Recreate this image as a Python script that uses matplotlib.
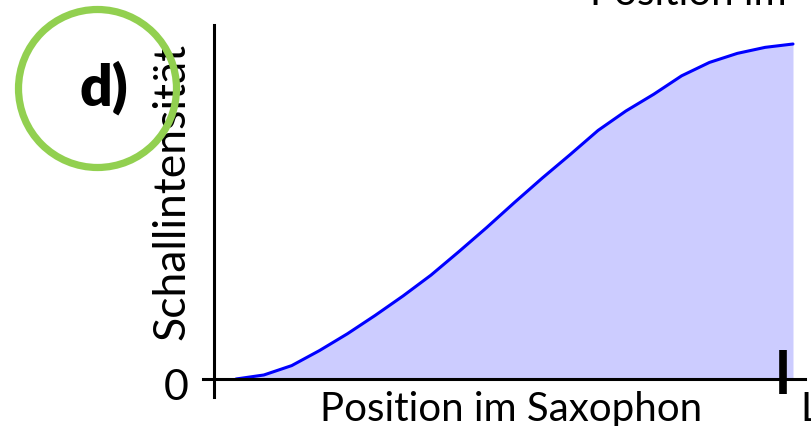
import matplotlib
matplotlib.use("Agg")
import matplotlib.pyplot as plt
from matplotlib.patches import Ellipse

plt.rcParams['font.family'] = ['Lato', 'DejaVu Sans']

# Position im Saxophon (0 = Anfang, 1 = Ende der Kurve) und Schallintensität (normiert)
posicion = [0, 0.05, 0.1, 0.15, 0.2, 0.25, 0.3, 0.35, 0.4, 0.45, 0.5,
            0.55, 0.6, 0.65, 0.7, 0.75, 0.8, 0.85, 0.9, 0.95, 1.0]
intensidad = [0, 0.012, 0.040, 0.085, 0.135, 0.19, 0.248, 0.31, 0.38, 0.452, 0.527,
              0.6, 0.67, 0.742, 0.80, 0.85, 0.905, 0.945, 0.972, 0.99, 1.0]
pos_L = 0.982

W, H = 811, 426
fig = plt.figure(figsize=(W / 100, H / 100), dpi=100)
ax = fig.add_axes([0, 0, 1, 1])
ax.set_xlim(-236 / 557, 575 / 557)
ax.set_ylim(-47 / 335, 379 / 335)
ax.axis('off')

ax.fill_between(posicion, intensidad, 0, color='#ccccff', lw=0)
ax.plot(posicion, intensidad, color='#0000ff', lw=2.2, solid_capstyle='round',
        solid_joinstyle='round')

# Achsen
ax.plot([-33 / 557, 569 / 557], [0, 0], color='black', lw=2.2)
ax.plot([-22 / 557, -22 / 557], [-18 / 335, 354 / 335], color='black', lw=2.2)
ax.plot([pos_L, pos_L], [-15 / 335, 29 / 335], color='black', lw=5.5, solid_capstyle='butt')

fs = 29
fig.text(320 / W, 1 - 421 / H, 'Position im Saxophon', fontsize=fs, ha='left', va='baseline')
fig.text(590 / W, 1 - 5 / H, 'Position im', fontsize=fs, ha='left', va='baseline')
fig.text(800 / W, 1 - 421 / H, 'L', fontsize=fs, ha='left', va='baseline')
fig.text(189 / W, 1 - 400 / H, '0', fontsize=31, ha='right', va='baseline')
fig.text(192 / W, 1 - 191 / H, 'Schallintensität', fontsize=32, rotation=90,
         ha='right', va='center')

circ = Ellipse((97.5 / W, 1 - 88.5 / H), 2 * 79 / W, 2 * 79 / H, transform=fig.transFigure,
               fill=False, edgecolor='#92d050', lw=5.2, zorder=5)
fig.add_artist(circ)
fig.text(104 / W, 1 - 88 / H, 'd)', fontsize=41, fontweight='heavy', ha='center', va='center',
         zorder=6)

fig.savefig('out.png', dpi=100)
